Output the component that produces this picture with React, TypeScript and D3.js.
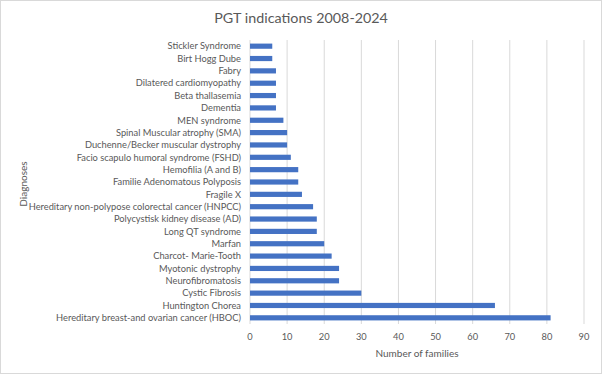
import * as d3 from 'd3';
import { useEffect, useRef } from 'react';

const diagnoses = [
  'Stickler Syndrome',
  'Birt Hogg Dube',
  'Fabry',
  'Dilatered cardiomyopathy',
  'Beta thallasemia',
  'Dementia',
  'MEN syndrome',
  'Spinal Muscular atrophy (SMA)',
  'Duchenne/Becker muscular dystrophy',
  'Facio scapulo humoral syndrome (FSHD)',
  'Hemofilia (A and B)',
  'Familie Adenomatous Polyposis',
  'Fragile X',
  'Hereditary non-polypose colorectal cancer (HNPCC)',
  'Polycystisk kidney disease (AD)',
  'Long QT syndrome',
  'Marfan',
  'Charcot- Marie-Tooth',
  'Myotonic dystrophy',
  'Neurofibromatosis',
  'Cystic Fibrosis',
  'Huntington Chorea',
  'Hereditary breast-and ovarian cancer (HBOC)',
];

const families = [6, 6, 7, 7, 7, 7, 9, 10, 10, 11, 13, 13, 14, 17, 18, 18, 20, 22, 24, 24, 30, 66, 81];

const xTicks = [0, 10, 20, 30, 40, 50, 60, 70, 80, 90];

const W = 602;
const H = 374;
const FONT = 'Lato, "Liberation Sans", sans-serif';

export default function App() {
  const ref = useRef<SVGSVGElement>(null);

  useEffect(() => {
    if (!ref.current) return;
    const svg = d3.select(ref.current);
    svg.selectAll('*').remove();

    const m = { left: 250, right: 18, top: 40, bottom: 50 };

    const x = d3.scaleLinear().domain([0, 90]).range([m.left, W - m.right]);
    const y = d3.scaleBand<string>()
      .domain(diagnoses)
      .range([m.top, H - m.bottom])
      .paddingInner(0.58)
      .paddingOuter(0.29);

    // frame
    svg.append('rect')
      .attr('x', 0.5).attr('y', 0.5)
      .attr('width', W - 1).attr('height', H - 1)
      .attr('fill', '#fff').attr('stroke', '#d9d9d9');

    // gridlines
    svg.append('g').selectAll('line').data(xTicks).join('line')
      .attr('x1', d => x(d)).attr('x2', d => x(d))
      .attr('y1', m.top).attr('y2', H - m.bottom)
      .attr('stroke', '#d9d9d9').attr('stroke-width', 1);

    // bars
    svg.append('g').selectAll('rect').data(diagnoses).join('rect')
      .attr('x', x(0))
      .attr('y', d => y(d)!)
      .attr('width', (d, i) => x(families[i]) - x(0))
      .attr('height', y.bandwidth())
      .attr('fill', '#4472c4');

    // category labels
    svg.append('g').selectAll('text').data(diagnoses).join('text')
      .text(d => d)
      .attr('x', x(0) - 9)
      .attr('y', d => y(d)! + y.bandwidth() / 2)
      .attr('dy', '0.35em')
      .attr('text-anchor', 'end')
      .attr('font-family', FONT)
      .attr('font-size', 9.3)
      .attr('fill', '#595959');

    // x tick labels
    svg.append('g').selectAll('text').data(xTicks).join('text')
      .text(d => d)
      .attr('x', d => x(d))
      .attr('y', H - m.bottom + 13)
      .attr('dy', '0.35em')
      .attr('text-anchor', 'middle')
      .attr('font-family', FONT)
      .attr('font-size', 9.3)
      .attr('fill', '#595959');

    // axis titles
    svg.append('text')
      .text('Number of families')
      .attr('x', (x(0) + x(90)) / 2)
      .attr('y', 353)
      .attr('dy', '0.35em')
      .attr('text-anchor', 'middle')
      .attr('font-family', FONT)
      .attr('font-size', 10)
      .attr('fill', '#595959');

    svg.append('text')
      .text('Diagnoses')
      .attr('transform', `translate(23, ${(m.top + H - m.bottom) / 2 + 2}) rotate(-90)`)
      .attr('dy', '0.35em')
      .attr('text-anchor', 'middle')
      .attr('font-family', FONT)
      .attr('font-size', 10)
      .attr('fill', '#595959');

    // title
    svg.append('text')
      .text('PGT indications 2008-2024')
      .attr('x', W / 2)
      .attr('y', 18)
      .attr('dy', '0.35em')
      .attr('text-anchor', 'middle')
      .attr('font-family', FONT)
      .attr('font-size', 14.3)
      .attr('fill', '#595959');
  }, []);

  return (
    <svg
      ref={ref}
      width={W}
      height={H}
      style={{ position: 'absolute', left: 0, top: 0, display: 'block' }}
    />
  );
}
